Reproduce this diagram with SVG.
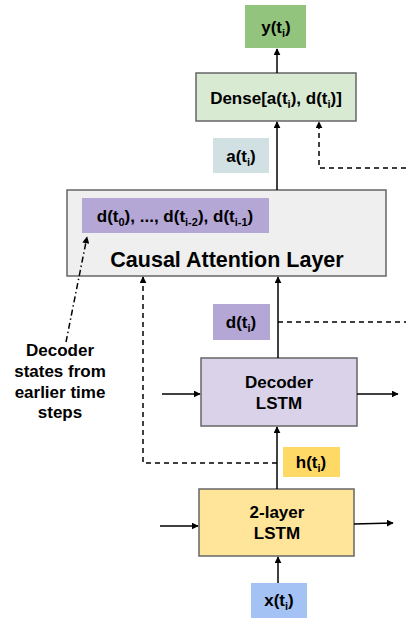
<svg xmlns="http://www.w3.org/2000/svg" width="406" height="620" viewBox="0 0 406 620">
<defs>
<style>
.box{stroke:#666;stroke-width:1.5}
.lab{stroke:none}
.t{font-family:"Liberation Sans",Arial,sans-serif;font-weight:bold;fill:#000;text-anchor:middle;font-size:17px}
.s{font-size:11px}
.ln{stroke:#000;stroke-width:1.5;fill:none}
.dash{stroke-dasharray:5 4}
.dd{stroke-dasharray:6 3 1.5 3}
</style>
<marker id="ah" viewBox="0 0 10 10" refX="9" refY="5" markerWidth="7" markerHeight="7" orient="auto" markerUnits="userSpaceOnUse">
<path d="M0,0 L10,5 L0,10 z" fill="#000"/>
</marker>
</defs>
<rect width="406" height="620" fill="#fff"/>

<g id="y">
<rect class="lab" x="245" y="5" width="61" height="43" fill="#93c47d"/>
<text class="t" x="276" y="33">y(t<tspan class="s" dy="4">i</tspan><tspan dy="-4">)</tspan></text>
</g>

<g id="dense">
<rect class="box" x="196" y="73" width="160" height="48" fill="#d9ead3"/>
<text class="t" x="276" y="104">Dense[a(t<tspan class="s" dy="4">i</tspan><tspan dy="-4">), d(t</tspan><tspan class="s" dy="4">i</tspan><tspan dy="-4">)]</tspan></text>
</g>

<g id="a">
<rect class="lab" x="213" y="138" width="56" height="35" fill="#d0e0e3"/>
<text class="t" x="241" y="162">a(t<tspan class="s" dy="4">i</tspan><tspan dy="-4">)</tspan></text>
</g>

<g id="attention">
<rect class="box" x="67" y="190" width="319" height="86" fill="#efefef"/>
<rect class="lab" x="82" y="198" width="187" height="35" fill="#b4a7d6"/>
<text class="t" x="175" y="222">d(t<tspan class="s" dy="4">0</tspan><tspan dy="-4">), ..., d(t</tspan><tspan class="s" dy="4">i-2</tspan><tspan dy="-4">), d(t</tspan><tspan class="s" dy="4">i-1</tspan><tspan dy="-4">)</tspan></text>
<text class="t" x="227" y="267" font-size="21.5" style="font-size:21.5px">Causal Attention Layer</text>
</g>

<g id="d">
<rect class="lab" x="213" y="304" width="57" height="36" fill="#b4a7d6"/>
<text class="t" x="241" y="328">d(t<tspan class="s" dy="4">i</tspan><tspan dy="-4">)</tspan></text>
</g>

<g id="note">
<text class="t"><tspan x="60" y="356">Decoder</tspan><tspan x="60" y="377">states from</tspan><tspan x="60" y="398">earlier time</tspan><tspan x="60" y="418">steps</tspan></text>
</g>

<g id="decoder">
<rect class="box" x="201" y="358" width="156" height="68" fill="#d9d2e9"/>
<text class="t"><tspan x="279" y="388">Decoder</tspan><tspan x="279" y="409">LSTM</tspan></text>
</g>

<g id="h">
<rect class="lab" x="283" y="447" width="57" height="30" fill="#ffd966"/>
<text class="t" x="311" y="468">h(t<tspan class="s" dy="4">i</tspan><tspan dy="-4">)</tspan></text>
</g>

<g id="lstm2">
<rect class="box" x="199" y="489" width="155" height="67" fill="#ffe599"/>
<text class="t"><tspan x="277" y="518">2-layer</tspan><tspan x="277" y="539">LSTM</tspan></text>
</g>

<g id="x">
<rect class="lab" x="251" y="583" width="56" height="35" fill="#a4c2f4"/>
<text class="t" x="279" y="606">x(t<tspan class="s" dy="4">i</tspan><tspan dy="-4">)</tspan></text>
</g>

<g id="connectors">
<line class="ln" x1="277" y1="73" x2="277" y2="49" marker-end="url(#ah)"/>
<line class="ln" x1="277" y1="190" x2="277" y2="122" marker-end="url(#ah)"/>
<polyline class="ln dash" points="406,168 319,168 319,122" marker-end="url(#ah)"/>
<line class="ln" x1="278" y1="358" x2="278" y2="277" marker-end="url(#ah)"/>
<line class="ln dash" x1="278" y1="322" x2="406" y2="322"/>
<polyline class="ln dash" points="277,463 143,463 143,277" marker-end="url(#ah)"/>
<line class="ln" x1="277" y1="489" x2="277" y2="427" marker-end="url(#ah)"/>
<line class="ln" x1="162" y1="394" x2="200" y2="394" marker-end="url(#ah)"/>
<line class="ln" x1="357" y1="394" x2="398" y2="394" marker-end="url(#ah)"/>
<line class="ln" x1="160" y1="526" x2="198" y2="526" marker-end="url(#ah)"/>
<line class="ln" x1="354" y1="524" x2="393" y2="523" marker-end="url(#ah)"/>
<line class="ln" x1="278" y1="583" x2="278" y2="557" marker-end="url(#ah)"/>
<line class="ln dd" stroke-width="1.3" x1="66" y1="342" x2="87" y2="237" marker-end="url(#ah)"/>
</g>
</svg>
